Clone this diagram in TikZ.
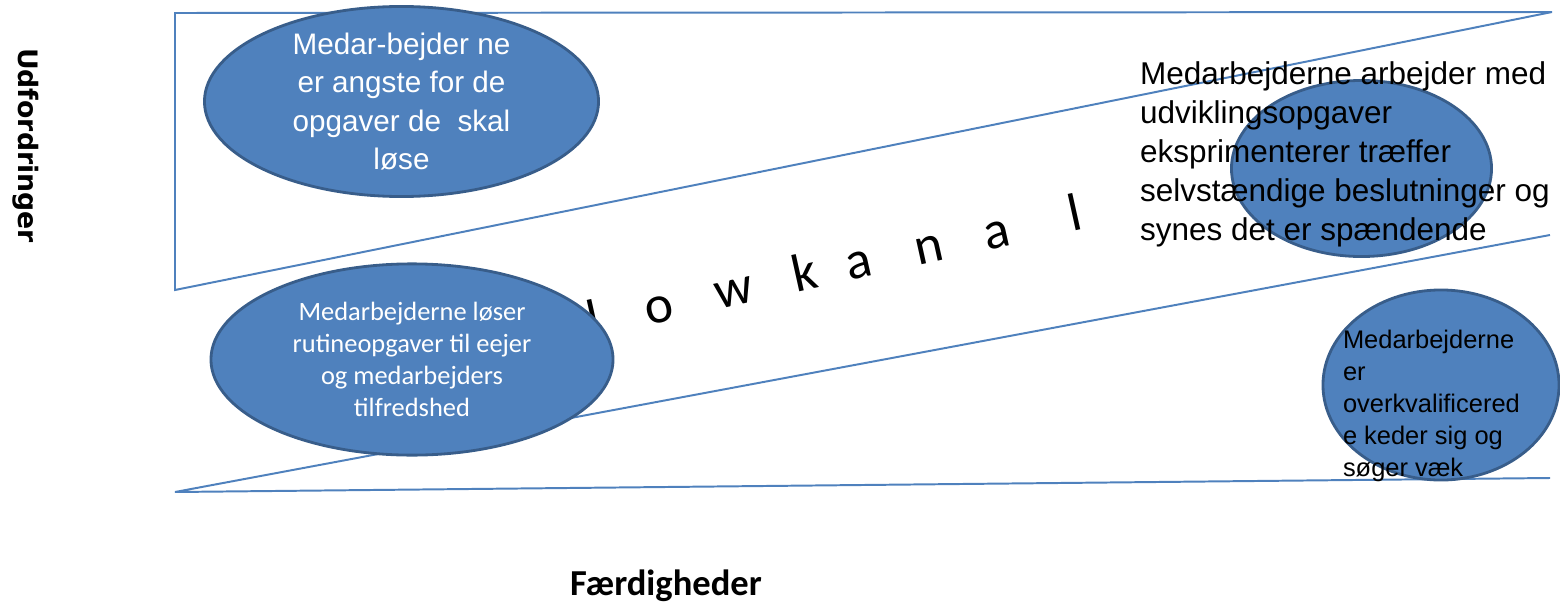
\documentclass[tikz,border=0pt]{standalone}
\usepackage{fontspec}
\setmainfont{Liberation Sans}
\newfontfamily\calfont{Carlito}
\newfontfamily\dvfont{DejaVu Sans}
\usetikzlibrary{shapes.geometric}

\definecolor{kantblue}{HTML}{4F81BD}
\definecolor{blobfill}{HTML}{4F81BD}
\definecolor{blobline}{HTML}{385D8A}

\begin{document}
\begin{tikzpicture}[x=0.025cm,y=-0.025cm,
  kant/.style={draw=kantblue,line width=1.4pt,line join=miter},
  blob/.style={ellipse,fill=blobfill,draw=blobline,line width=2pt,inner sep=0pt,outer sep=0pt},
  txt/.style={inner sep=0pt,outer sep=0pt},
  flow/.style={txt,anchor=base,rotate=12.5,font=\calfont\fontsize{38}{44}\selectfont}]
\useasboundingbox (0,0) rectangle (1560,605);

\coordinate (tl) at (175,13);
\coordinate (ml) at (175,290);
\coordinate (bl) at (175,492);
\coordinate (tr) at (1552,12);
\coordinate (mr) at (1550,235);
\coordinate (br) at (1550,478);

\draw[kant] (tr) -- (tl) -- (ml) -- (tr);
\draw[kant] (mr) -- (bl) -- (br);

\foreach \x/\c [count=\i] in {597/l,662/o,737/w,808/k,862/a,932/n,1000/a,1078/l}
  \node[flow] (fl\i) at (\x,{322-0.221*(\x-662)}) {\c};

\node[blob,minimum width=9.85cm,minimum height=4.75cm] (E1) at (401.5,101.5) {};
\node[blob,minimum width=10.05cm,minimum height=4.78cm] (E2) at (412,359.5) {};
\node[blob,minimum width=6.5cm,minimum height=4.4cm] (E3) at (1361.5,168.5) {};
\node[blob,minimum width=5.9cm,minimum height=4.75cm] (E4) at (1441,385) {};

\node[txt,text=white,align=center,font=\fontsize{21.1}{27.2}\selectfont] (t1) at (E1)
  {Medar-bejder ne\\er angste for de\\opgaver de~~skal\\løse};
\node[txt,text=white,align=center,font=\calfont\fontsize{18.8}{22.8}\selectfont] (t2) at (E2)
  {Medarbejderne løser\\rutineopgaver til eejer\\og medarbejders\\tilfredshed};
\node[txt,anchor=north west,align=left,font=\fontsize{22.4}{27.6}\selectfont] (t3) at (1140,62)
  {Medarbejderne arbejder med\\udviklingsopgaver\\eksprimenterer træffer\\selvstændige beslutninger og\\synes det er spændende};
\node[txt,anchor=north west,align=left,font=\fontsize{18.1}{22.8}\selectfont] (t4) at (1343,330)
  {Medarbejderne\\er\\overkvalificered\\e keder sig og\\søger væk};

\node[txt,anchor=base,rotate=-90,font=\dvfont\bfseries\fontsize{19}{23}\selectfont] (udf) at (19,145.5) {Udfordringer};
\node[txt,anchor=base,font=\calfont\bfseries\fontsize{26}{30}\selectfont] (faer) at (666,595) {Færdigheder};
\end{tikzpicture}
\end{document}
